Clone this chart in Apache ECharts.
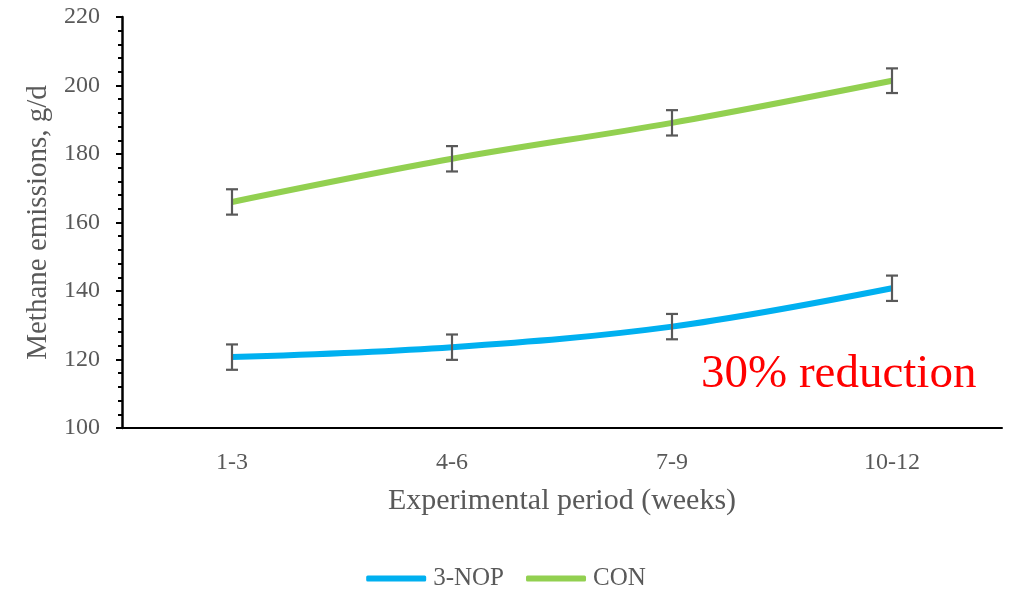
<!DOCTYPE html>
<html>
<head>
<meta charset="utf-8">
<script src="https://cdn.jsdelivr.net/npm/echarts@6/dist/echarts.min.js"></script>
<style>html,body{margin:0;padding:0;background:#fff;}#c{width:1012px;height:589px;}</style>
</head>
<body>
<div id="c"></div>
<script>
var categories = ['1-3', '4-6', '7-9', '10-12'];
var nopValues = [120.7, 123.6, 129.6, 140.8];
var nopErrors = [3.7, 3.7, 3.7, 3.7];
var conValues = [166.0, 178.6, 189.1, 201.4];
var conErrors = [3.7, 3.7, 3.7, 3.6];
var yTicks = [100, 120, 140, 160, 180, 200, 220];

var serif = '"Liberation Serif", "DejaVu Serif", serif';
var chart = echarts.init(document.getElementById('c'));

function errData(vals, errs) {
  return vals.map(function (v, i) { return [i, v - errs[i], v + errs[i]]; });
}
function errRender(params, api) {
  var x = api.value(0);
  var lo = api.coord([x, api.value(1)]);
  var hi = api.coord([x, api.value(2)]);
  var w = 6;
  var st = { stroke: '#595959', lineWidth: 2.2, fill: null };
  return {
    type: 'group',
    children: [
      { type: 'line', shape: { x1: hi[0], y1: hi[1], x2: lo[0], y2: lo[1] }, style: st },
      { type: 'line', shape: { x1: hi[0] - w, y1: hi[1], x2: hi[0] + w, y2: hi[1] }, style: st },
      { type: 'line', shape: { x1: lo[0] - w, y1: lo[1], x2: lo[0] + w, y2: lo[1] }, style: st }
    ]
  };
}

chart.setOption({
  animation: false,
  grid: { left: 122, right: 10, top: 17, bottom: 161, containLabel: false },
  legend: {
    top: 561,
    left: 'center',
    itemWidth: 60,
    itemHeight: 6,
    itemGap: 22,
    icon: 'roundRect',
    textStyle: { fontFamily: serif, fontSize: 25, color: '#595959', padding: [0, 0, 0, 2] },
    data: ['3-NOP', 'CON']
  },
  xAxis: {
    type: 'category',
    data: categories,
    boundaryGap: true,
    axisLine: { lineStyle: { color: '#000', width: 2 } },
    axisTick: { show: false },
    axisLabel: { fontFamily: serif, fontSize: 24, color: '#595959', margin: 23 },
    name: 'Experimental period (weeks)',
    nameLocation: 'middle',
    nameGap: 58,
    nameTextStyle: { fontFamily: serif, fontSize: 30, color: '#595959' }
  },
  yAxis: {
    type: 'value',
    min: yTicks[0],
    max: yTicks[yTicks.length - 1],
    interval: 20,
    axisLine: { show: true, lineStyle: { color: '#000', width: 2.5 } },
    axisTick: { show: true, inside: false, length: 6, lineStyle: { color: '#000', width: 2 } },
    minorTick: { show: true, splitNumber: 5, length: 4, lineStyle: { color: '#000', width: 2 } },
    splitLine: { show: false },
    axisLabel: { fontFamily: serif, fontSize: 24, color: '#595959', margin: 22 },
    name: 'Methane emissions, g/d',
    nameLocation: 'middle',
    nameGap: 59,
    nameTextStyle: { fontFamily: serif, fontSize: 29, color: '#595959' }
  },
  graphic: [{
    type: 'text',
    left: 701,
    top: 351,
    style: { text: '30% reduction', fontFamily: serif, fontSize: 47, fill: '#FF0000' }
  }],
  series: [
    {
      name: '3-NOP', type: 'line', data: nopValues, smooth: 0.35, symbol: 'none',
      lineStyle: { color: '#00B0F0', width: 6 }, itemStyle: { color: '#00B0F0' }, z: 3
    },
    {
      name: 'CON', type: 'line', data: conValues, smooth: 0.35, symbol: 'none',
      lineStyle: { color: '#92D050', width: 6 }, itemStyle: { color: '#92D050' }, z: 3
    },
    { type: 'custom', name: 'nopErr', data: errData(nopValues, nopErrors), renderItem: errRender, z: 4, silent: true },
    { type: 'custom', name: 'conErr', data: errData(conValues, conErrors), renderItem: errRender, z: 4, silent: true }
  ]
});
</script>
</body>
</html>
